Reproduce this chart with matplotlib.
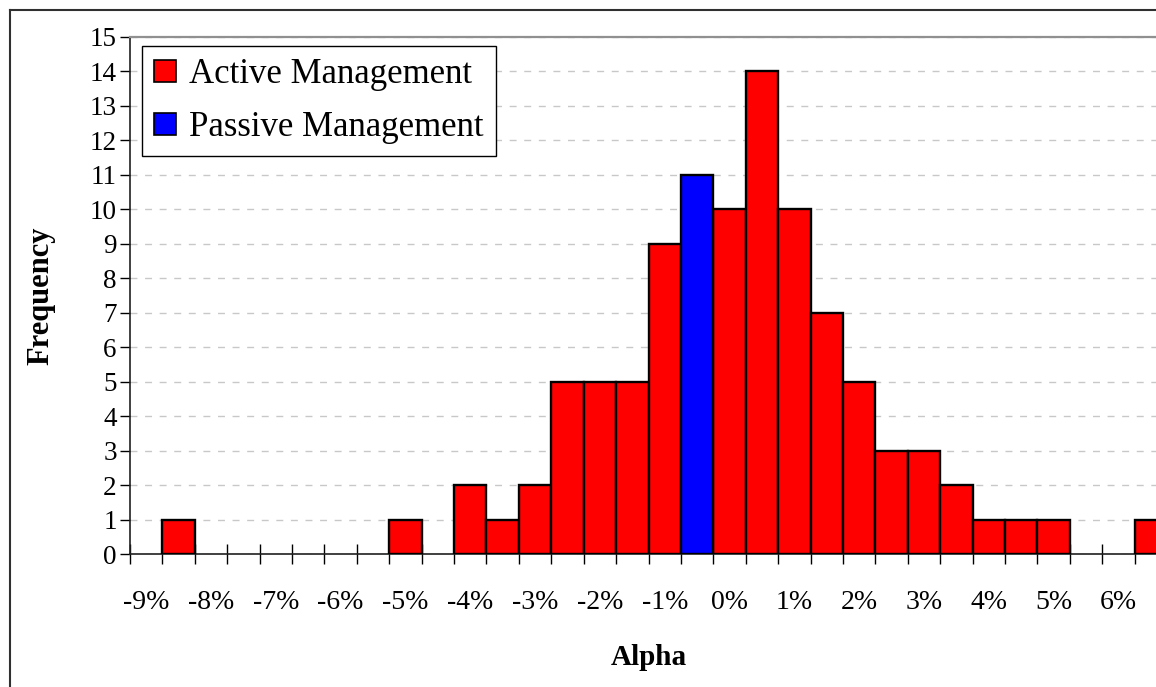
import numpy as np
import matplotlib.pyplot as plt
from matplotlib.patches import Patch
from matplotlib.lines import Line2D

# alpha bins (category labels, every other one shown)
bins = ["-9%", "-8.5%", "-8%", "-7.5%", "-7%", "-6.5%", "-6%", "-5.5%",
        "-5%", "-4.5%", "-4%", "-3.5%", "-3%", "-2.5%", "-2%", "-1.5%",
        "-1%", "-0.5%", "0%", "0.5%", "1%", "1.5%", "2%", "2.5%",
        "3%", "3.5%", "4%", "4.5%", "5%", "5.5%", "6%", "6.5%"]
active = [0, 1, 0, 0, 0, 0, 0, 0,
          1, 0, 2, 1, 2, 5, 5, 5,
          9, 0, 10, 14, 10, 7, 5, 3,
          3, 2, 1, 1, 1, 0, 0, 1]
passive = [0, 0, 0, 0, 0, 0, 0, 0,
           0, 0, 0, 0, 0, 0, 0, 0,
           0, 11, 0, 0, 0, 0, 0, 0,
           0, 0, 0, 0, 0, 0, 0, 0]
shown_labels = ["-9%", "-8%", "-7%", "-6%", "-5%", "-4%", "-3%", "-2%",
                "-1%", "0%", "1%", "2%", "3%", "4%", "5%", "6%"]

plt.rcParams['font.family'] = ['Liberation Serif', 'DejaVu Serif']

W, H = 1156, 687
fig = plt.figure(figsize=(W / 100, H / 100), dpi=100)
ax = fig.add_axes([130 / W, (H - 554) / H, 1037 / W, 517 / H])

x = np.arange(len(bins))
active = np.array(active)
passive = np.array(passive)

ma = active > 0
ax.bar(x[ma], active[ma], width=1, color='#FF0000', edgecolor='black',
       linewidth=1.7, zorder=3)
mp = passive > 0
ax.bar(x[mp], passive[mp], width=1, color='#0000FF', edgecolor='black',
       linewidth=1.7, zorder=3)

ax.set_xlim(-0.5, len(bins) - 0.5)
ax.set_ylim(0, 15)
ax.set_yticks(range(0, 16))
ax.yaxis.grid(True, color='#c8c8c8', linestyle=(0, (5, 5.5)), linewidth=1.0)
ax.set_axisbelow(True)

ax.set_xticks(np.arange(-0.5, len(bins), 1))
ax.set_xticklabels([])
ax.set_xticks(x[::2], minor=True)
ax.set_xticklabels(shown_labels, minor=True)
ax.tick_params(axis='x', which='major', direction='inout', length=14,
               width=1, color='black')
ax.tick_params(axis='x', which='minor', length=0, pad=26, labelsize=20)
ax.tick_params(axis='y', direction='out', length=7.5, width=1, pad=2,
               labelsize=19.5)

for s in ['top', 'right']:
    ax.spines[s].set_color('#909090')
    ax.spines[s].set_linewidth(1.6)
ax.spines['left'].set_color('#202020')
ax.spines['left'].set_linewidth(1.2)
ax.spines['bottom'].set_color('#202020')
ax.spines['bottom'].set_linewidth(1.2)

ax.set_ylabel("Frequency", fontsize=22, fontweight='bold')
ax.yaxis.set_label_coords(-0.072, 0.5)
ax.set_xlabel("Alpha", fontsize=21, fontweight='bold')
ax.xaxis.set_label_coords(0.5, -0.174)

handles = [Patch(facecolor='#FF0000', edgecolor='black', linewidth=1.2),
           Patch(facecolor='#0000FF', edgecolor='black', linewidth=1.2)]
leg = ax.legend(handles, ["Active Management", "Passive Management"],
                loc='upper left', bbox_to_anchor=(0.0116, 0.9826),
                borderaxespad=0, fontsize=25, fancybox=False,
                framealpha=1, edgecolor='black', handlelength=0.62,
                handleheight=0.62, handletextpad=0.38, borderpad=0.35,
                labelspacing=0.58)
leg.get_frame().set_linewidth(1.0)

# chart area border (left and top visible)
fig.add_artist(Line2D([10 / W, 10 / W], [0, 1 - 10 / H], color='#303030',
                      linewidth=1.5, transform=fig.transFigure))
fig.add_artist(Line2D([10 / W, 1], [1 - 10 / H, 1 - 10 / H], color='#303030',
                      linewidth=1.5, transform=fig.transFigure))

fig.savefig("out.png", dpi=100)
